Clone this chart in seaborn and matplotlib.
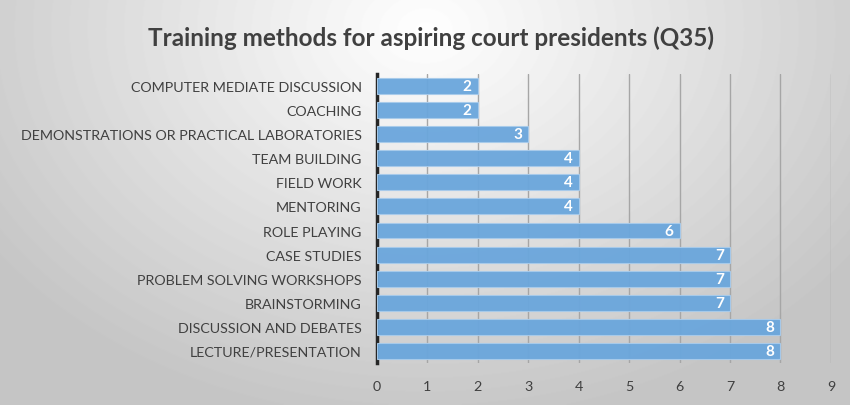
import numpy as np
import pandas as pd
import seaborn as sns
import matplotlib.pyplot as plt

methods = ['COMPUTER MEDIATE DISCUSSION', 'COACHING',
           'DEMONSTRATIONS OR PRACTICAL LABORATORIES', 'TEAM BUILDING',
           'FIELD WORK', 'MENTORING', 'ROLE PLAYING', 'CASE STUDIES',
           'PROBLEM SOLVING WORKSHOPS', 'BRAINSTORMING',
           'DISCUSSION AND DEBATES', 'LECTURE/PRESENTATION']
counts = [2, 2, 3, 4, 4, 4, 6, 7, 7, 7, 8, 8]
xticks = list(range(10))

df = pd.DataFrame({'method': methods, 'count': counts})

sns.set_style('white')
plt.rcParams['font.family'] = ['Lato', 'DejaVu Sans']

fig = plt.figure(figsize=(8.5, 4.06), dpi=100)

# radial grey background
bg = fig.add_axes([0, 0, 1, 1], zorder=-1)
yy, xx = np.mgrid[0:406, 0:850]
r = np.sqrt(((xx - 425) / 560.0) ** 2 + ((yy - 30) / 420.0) ** 2)
shade = np.clip(1.0 - 0.24 * r, 0.77, 1.0)
bg.imshow(shade, cmap='gray', vmin=0, vmax=1, aspect='auto',
          extent=[0, 1, 0, 1])
bg.axis('off')

ax = fig.add_axes([0.4435, 0.1034, 0.534, 0.712])
ax.patch.set_alpha(0)
sns.barplot(data=df, x='count', y='method', orient='h', color='#6aa6dc',
            saturation=1, width=0.66, alpha=0.95, edgecolor='#a8cbeb',
            linewidth=0.8, ax=ax, zorder=3)

for i, v in enumerate(counts):
    ax.text(v - 0.12, i, str(v), ha='right', va='center', color='white',
            fontsize=11, fontweight='bold', zorder=4)

ax.set_xlim(0, 9)
ax.set_ylim(11.5, -0.5)
ax.set_xticks(xticks)
ax.grid(axis='x', color='#a6a6a6', linewidth=1.0, zorder=0)
ax.set_xlabel('')
ax.set_ylabel('')
for s in ['top', 'right', 'bottom']:
    ax.spines[s].set_visible(False)
ax.spines['left'].set_color('#262626')
ax.spines['left'].set_linewidth(2.5)
ax.tick_params(axis='both', length=0, labelsize=10.3, colors='#404040')
ax.tick_params(axis='x', pad=12)
ax.tick_params(axis='y', pad=11)

fig.text(0.507, 0.905, 'Training methods for aspiring court presidents (Q35)',
         ha='center', va='center', fontsize=17.5, fontweight='bold',
         color='#404040')

fig.savefig('out.png', dpi=100)
